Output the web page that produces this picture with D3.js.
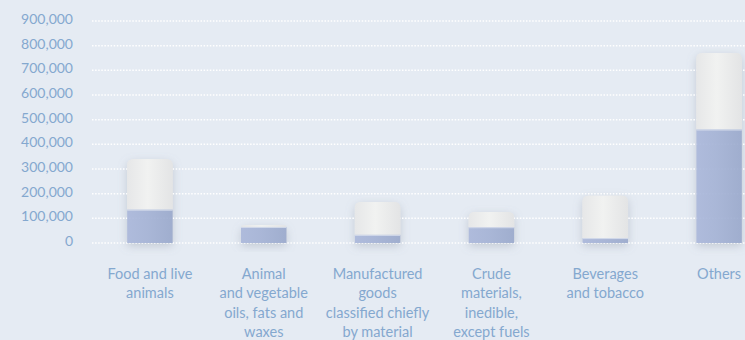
<!DOCTYPE html>
<html>
<head>
<meta charset="utf-8">
<script src="https://cdn.jsdelivr.net/npm/d3@7"></script>
<style>
  html, body { margin: 0; padding: 0; background: #e5ebf3; }
  svg { display: block; }
  text { font-family: Lato, "Open Sans", sans-serif; }
</style>
</head>
<body>
<div id="chart"></div>
<script>
// ---- data ----
const categories = [
  "Food and live animals",
  "Animal and vegetable oils, fats and waxes",
  "Manufactured goods classified chiefly by material",
  "Crude materials, inedible, except fuels",
  "Beverages and tobacco",
  "Others"
];
const categoryLines = [
  ["Food and live", "animals"],
  ["Animal", "and vegetable", "oils, fats and", "waxes"],
  ["Manufactured", "goods", "classified chiefly", "by material"],
  ["Crude", "materials,", "inedible,", "except fuels"],
  ["Beverages", "and tobacco"],
  ["Others"]
];
const lowerValues = [135000, 65000, 33000, 64000, 20000, 460000];
const totalValues = [340000, 72000, 166000, 126000, 192000, 770000];
const yTicks = [0, 100000, 200000, 300000, 400000, 500000, 600000, 700000, 800000, 900000];

// ---- layout ----
const W = 745, H = 340;
const svg = d3.select("#chart").append("svg").attr("width", W).attr("height", H);
svg.append("rect").attr("width", W).attr("height", H).attr("fill", "#e5ebf3");

const defs = svg.append("defs");
const sh = defs.append("filter").attr("id", "shadow")
  .attr("x", "-50%").attr("y", "-50%").attr("width", "200%").attr("height", "200%");
sh.append("feDropShadow").attr("dx", 0).attr("dy", 3).attr("stdDeviation", 5)
  .attr("flood-color", "#7f8898").attr("flood-opacity", 0.35);

const gWhite = defs.append("linearGradient").attr("id", "gWhite")
  .attr("x1", "0%").attr("x2", "100%").attr("y1", "0%").attr("y2", "0%");
gWhite.append("stop").attr("offset", "0%").attr("stop-color", "#e6e7e8");
gWhite.append("stop").attr("offset", "45%").attr("stop-color", "#f1f2f1");
gWhite.append("stop").attr("offset", "100%").attr("stop-color", "#e3e4e5");

const gBlue = defs.append("linearGradient").attr("id", "gBlue")
  .attr("x1", "0%").attr("x2", "100%").attr("y1", "0%").attr("y2", "0%");
gBlue.append("stop").attr("offset", "0%").attr("stop-color", "#a7b5da");
gBlue.append("stop").attr("offset", "100%").attr("stop-color", "#96a6cb");

const x = d3.scaleBand().domain(categories).range([93, 776])
  .paddingInner(0.6).paddingOuter(0.3);
const y = d3.scaleLinear().domain([0, 900000]).range([243, 21]);

// y axis labels
const fmt = d3.format(",");
svg.append("g").selectAll("text").data(yTicks).join("text")
  .attr("x", 73).attr("y", d => y(d) - 2)
  .attr("dy", "0.35em")
  .attr("text-anchor", "end")
  .attr("font-size", 14)
  .attr("fill", "#84a8cf")
  .text(d => fmt(d));

// bars: total (white rounded top)
const r = 6;
function topRounded(x0, y0, w, h, rr) {
  rr = Math.min(rr, h, w / 2);
  return `M${x0},${y0 + h}V${y0 + rr}Q${x0},${y0} ${x0 + rr},${y0}H${x0 + w - rr}Q${x0 + w},${y0} ${x0 + w},${y0 + rr}V${y0 + h}Z`;
}
const bw = x.bandwidth();
svg.append("g").selectAll("path").data(categories).join("path")
  .attr("d", (c, i) => topRounded(x(c), y(totalValues[i]), bw, y(0) - y(totalValues[i]), r))
  .attr("fill", "url(#gWhite)")
  .attr("filter", "url(#shadow)");

// gridlines
svg.append("g").selectAll("line").data(yTicks).join("line")
  .attr("x1", 92).attr("x2", W)
  .attr("y1", d => y(d)).attr("y2", d => y(d))
  .attr("stroke", "#ffffff").attr("stroke-width", 1.5)
  .attr("stroke-dasharray", "1.5,1.6");

// white bar bodies cover gridlines
svg.append("g").selectAll("path").data(categories).join("path")
  .attr("d", (c, i) => topRounded(x(c), y(totalValues[i]), bw, y(lowerValues[i]) - y(totalValues[i]), r))
  .attr("fill", "url(#gWhite)");

// lower blue part
svg.append("g").selectAll("rect").data(categories).join("rect")
  .attr("x", c => x(c)).attr("width", bw)
  .attr("y", (c, i) => y(lowerValues[i]))
  .attr("height", (c, i) => y(0) - y(lowerValues[i]))
  .attr("fill", "url(#gBlue)").attr("fill-opacity", 0.88);
svg.append("g").selectAll("line").data(categories).join("line")
  .attr("x1", c => x(c)).attr("x2", c => x(c) + bw)
  .attr("y1", (c, i) => y(lowerValues[i]) + 0.5).attr("y2", (c, i) => y(lowerValues[i]) + 0.5)
  .attr("stroke", "#d3daea").attr("stroke-width", 1);

// category labels
const lab = svg.append("g").selectAll("text").data(categories).join("text")
  .attr("x", c => x(c) + bw / 2)
  .attr("y", 274)
  .attr("text-anchor", "middle")
  .attr("font-size", 14.5)
  .attr("fill", "#84a8cf");
lab.each(function(c, i) {
  d3.select(this).selectAll("tspan").data(categoryLines[i]).join("tspan")
    .attr("x", x(c) + bw / 2)
    .attr("y", (d, j) => 274 + j * 19.3)
    .attr("dy", "0.35em")
    .text(d => d);
});
</script>
</body>
</html>
